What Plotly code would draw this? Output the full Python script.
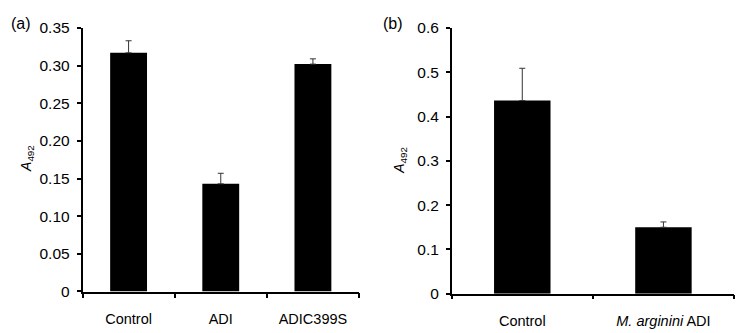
import plotly.graph_objects as go

# Panel (a)
cats_a = ["Control", "ADI", "ADIC399S"]
vals_a = [0.317, 0.143, 0.302]
err_a = [0.016, 0.014, 0.007]
yticks_a = [0, 0.05, 0.10, 0.15, 0.20, 0.25, 0.30, 0.35]
yticktext_a = ["0", "0.05", "0.10", "0.15", "0.20", "0.25", "0.30", "0.35"]

# Panel (b)
cats_b = ["Control", "<i>M. arginini</i> ADI"]
vals_b = [0.436, 0.150]
err_b = [0.073, 0.012]
yticks_b = [0, 0.1, 0.2, 0.3, 0.4, 0.5, 0.6]
yticktext_b = ["0", "0.1", "0.2", "0.3", "0.4", "0.5", "0.6"]

W, H = 748, 333
FONT = "Liberation Sans, Arial, Helvetica, sans-serif"

fig = go.Figure()
err_style = dict(type="data", symmetric=False, color="#333333", thickness=1, width=3)

fig.add_trace(go.Bar(x=cats_a, y=vals_a, width=0.4, marker=dict(color="black", line=dict(width=0)),
                     error_y=dict(err_style, array=err_a, arrayminus=[0]*len(err_a)),
                     xaxis="x", yaxis="y", showlegend=False, hoverinfo="skip"))
fig.add_trace(go.Bar(x=cats_b, y=vals_b, width=0.4, marker=dict(color="black", line=dict(width=0)),
                     error_y=dict(err_style, array=err_b, arrayminus=[0]*len(err_b)),
                     xaxis="x2", yaxis="y2", showlegend=False, hoverinfo="skip"))

axis_common = dict(showline=True, linecolor="black", linewidth=1.5, ticks="outside", tickcolor="black",
                   tickwidth=1.5, showgrid=False, zeroline=False)
xfont = dict(family=FONT, size=14.5, color="black")
yfont = dict(family=FONT, size=15.5, color="black")

fig.update_layout(
    width=W, height=H, margin=dict(l=0, r=0, t=0, b=0),
    plot_bgcolor="white", paper_bgcolor="white", bargap=0.6,
    xaxis=dict(axis_common, domain=[82.5/W, 359/W], anchor="y", range=[-0.5, 2.5], type="category",
               tickson="boundaries", ticklen=5, tickfont=xfont, ticklabelstandoff=13),
    yaxis=dict(axis_common, domain=[(H-297.7)/H, (H-20)/H], anchor="x", range=[0, 0.35],
               tickvals=yticks_a, ticktext=yticktext_a, ticklen=4, tickfont=yfont, ticklabelstandoff=4),
    xaxis2=dict(axis_common, domain=[451.7/W, 734/W], anchor="y2", range=[-0.5, 1.5], type="category",
                tickson="boundaries", ticklen=4, tickfont=xfont, ticklabelstandoff=13),
    yaxis2=dict(axis_common, domain=[(H-300)/H, (H-20)/H], anchor="x2", range=[0, 0.6],
                tickvals=yticks_b, ticktext=yticktext_b, ticklen=4, tickfont=yfont, ticklabelstandoff=4),
    annotations=[
        dict(text="(a)", x=21/W, y=(H-15.5)/H, xref="paper", yref="paper", showarrow=False,
             font=dict(family=FONT, size=16, color="black"), xanchor="center", yanchor="middle"),
        dict(text="(b)", x=393/W, y=(H-15)/H, xref="paper", yref="paper", showarrow=False,
             font=dict(family=FONT, size=16, color="black"), xanchor="center", yanchor="middle"),
        dict(text="<i>A</i><sub>492</sub>", x=27/W, y=(H-158)/H, xref="paper", yref="paper", showarrow=False,
             textangle=-90, font=dict(family=FONT, size=14, color="black"), xanchor="center", yanchor="middle"),
        dict(text="<i>A</i><sub>492</sub>", x=400/W, y=(H-160)/H, xref="paper", yref="paper", showarrow=False,
             textangle=-90, font=dict(family=FONT, size=14, color="black"), xanchor="center", yanchor="middle"),
    ],
)

fig.write_html("out.html", config={"displayModeBar": False},
               post_script="document.body.style.margin='0';")
